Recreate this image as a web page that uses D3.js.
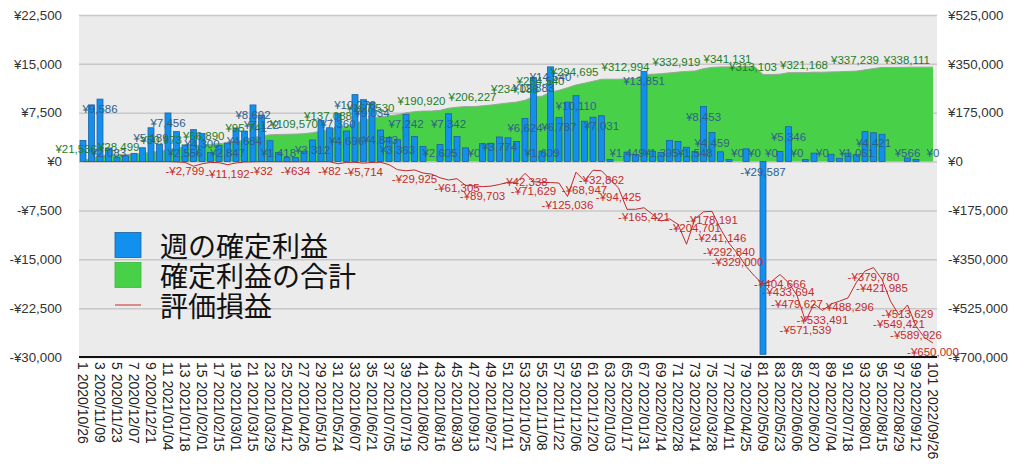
<!DOCTYPE html>
<html><head><meta charset="utf-8">
<script src="https://cdn.jsdelivr.net/npm/d3@7"></script>
<style>
body{margin:0;background:#fff;}
svg{display:block;}
text{font-family:"Liberation Sans",Arial,sans-serif;}
</style>
</head><body>
<svg id="c" width="1024" height="473"></svg>
<script>
// ---- data ----
const weekDates = ["2020/10/26","2020/11/02","2020/11/09","2020/11/16","2020/11/23","2020/11/30","2020/12/07","2020/12/14","2020/12/21","2020/12/28",
"2021/01/04","2021/01/11","2021/01/18","2021/01/25","2021/02/01","2021/02/08","2021/02/15","2021/02/22","2021/03/01","2021/03/08",
"2021/03/15","2021/03/22","2021/03/29","2021/04/05","2021/04/12","2021/04/19","2021/04/26","2021/05/03","2021/05/10","2021/05/17",
"2021/05/24","2021/05/31","2021/06/07","2021/06/14","2021/06/21","2021/06/28","2021/07/05","2021/07/12","2021/07/19","2021/07/26",
"2021/08/02","2021/08/09","2021/08/16","2021/08/23","2021/08/30","2021/09/06","2021/09/13","2021/09/20","2021/09/27","2021/10/04",
"2021/10/11","2021/10/18","2021/10/25","2021/11/01","2021/11/08","2021/11/15","2021/11/22","2021/11/29","2021/12/06","2021/12/13",
"2021/12/20","2021/12/27","2022/01/03","2022/01/10","2022/01/17","2022/01/24","2022/01/31","2022/02/07","2022/02/14","2022/02/21",
"2022/02/28","2022/03/07","2022/03/14","2022/03/21","2022/03/28","2022/04/04","2022/04/11","2022/04/18","2022/04/25","2022/05/02",
"2022/05/09","2022/05/16","2022/05/23","2022/05/30","2022/06/06","2022/06/13","2022/06/20","2022/06/27","2022/07/04","2022/07/11",
"2022/07/18","2022/07/25","2022/08/01","2022/08/08","2022/08/15","2022/08/22","2022/08/29","2022/09/05","2022/09/12","2022/09/19",
"2022/09/26"];

// 週の確定利益 (weekly realized profit, left axis)
const weeklyProfit = [3250,8700,9586,2083,600,900,1260,2120,5189,2673,
7456,4600,2556,4900,4300,1400,2470,2847,5150,4684,
8692,7122,3203,1418,600,600,1600,3312,6299,5184,
7360,4696,10278,9500,9034,4843,3702,3363,7242,3870,
2331,0,2605,7342,3870,2100,0,2750,2813,3774,
3650,3093,6624,12883,1609,14540,6787,9127,10110,6200,
6814,7031,300,0,1449,1100,13851,1599,1395,3229,
3100,2200,1548,8453,4459,1500,300,0,1953,0,
-29587,0,1559,5346,0,300,1300,0,1119,500,
1300,1061,4600,4421,4189,0,0,566,306,0,
0];

// 確定利益の合計 (cumulative realized profit, right axis)
const cumulativeProfit = [3250,11950,21536,23619,24219,25119,26379,28499,33688,36361,
43817,48417,50973,55873,60173,61573,64043,66890,72040,76724,
85416,92538,95741,97159,97759,98359,99959,103271,109570,114754,
122114,126810,137088,146588,155622,160465,164167,167530,174772,178642,
180973,180973,183578,190920,194790,196890,196890,199640,202453,206227,
209877,212970,219594,232477,234086,248626,255413,264540,274650,280850,
287664,294695,294995,294995,296444,297544,311395,312994,314389,317618,
320718,322918,324466,332919,337378,338878,339178,339178,341131,341131,
311544,311544,313103,318449,318449,318749,320049,320049,321168,321668,
322968,324029,328629,333050,337239,337239,337239,337805,338111,338111,
338111];

// 評価損益 (unrealized P/L, right axis)
const unrealized = [0,0,0,0,0,0,0,0,0,0,
0,-1200,-2799,-16500,-8000,-3000,-4000,-11192,-5000,-1500,
-800,-32,-300,-400,-500,-634,-400,-300,-200,-82,
-8000,-3000,-2500,-5714,-3000,-2500,-11000,-29000,-33000,-29925,
-41000,-45000,-58000,-66000,-61305,-85000,-87000,-89703,-88000,-82000,
-74000,-74000,-42338,-71629,-75000,-75000,-77000,-125036,-38000,-68947,
-31000,-32862,-64000,-94425,-171000,-171000,-165421,-189000,-213000,-205000,
-225000,-296000,-204701,-180000,-178191,-241146,-292840,-329000,-375000,-410000,
-439000,-429000,-404666,-433694,-479627,-571539,-510000,-533491,-510000,-500000,
-488296,-432000,-392000,-379780,-421985,-500000,-549421,-513629,-589926,-630000,
-650000];

// weeks (1-based) that carry a data label in the reference
const barLabelWeeks = [3,4,9,11,13,15,18,20,21,22,24,28,31,32,33,35,36,38,39,43,44,47,50,53,54,55,56,57,59,62,65,67,69,73,74,75,78,80,81,82,84,85,88,92,94,98,101];
const cumLabelWeeks = [3,8,13,18,23,29,33,38,44,50,55,58,62,68,74,80,83,89,95,101];
const lineLabelWeeks = [13,18,22,26,30,34,40,45,48,53,54,58,60,62,64,67,73,75,76,77,78,83,84,85,86,88,91,94,95,97,98,99,101];

const leftTicks = [22500,15000,7500,0,-7500,-15000,-22500,-30000];
const rightTicks = [525000,350000,175000,0,-175000,-350000,-525000,-700000];
const legendItems = ["週の確定利益","確定利益の合計","評価損益"];

// ---- chart ----
const svg = d3.select("#c");
const L = 79, R = 937, T = 15, B = 357;
const weeks = d3.range(1, weekDates.length + 1);
const x = d3.scalePoint().domain(weeks).range([83, 933]);
const yL = d3.scaleLinear().domain([-30000, 22500]).range([B, T]);
const yR = d3.scaleLinear().domain([-700000, 525000]).range([B, T]);
const yen = v => (v < 0 ? "-" : "") + "¥" + d3.format(",")(Math.abs(v));

svg.append("rect").attr("x", L).attr("y", T).attr("width", R - L).attr("height", B - T).attr("fill", "#ebebeb");

// gridlines
svg.append("g").attr("transform", `translate(${L},0)`)
  .call(d3.axisLeft(yL).tickValues(leftTicks).tickSize(-(R - L)).tickFormat(""))
  .call(g => g.select(".domain").remove())
  .call(g => g.selectAll("line").attr("stroke", "#c8c8c8").attr("stroke-width", 1.5));

// left axis labels
svg.append("g").attr("transform", `translate(${L},0)`)
  .call(d3.axisLeft(yL).tickValues(leftTicks).tickSize(0).tickPadding(17).tickFormat(yen))
  .call(g => g.select(".domain").remove())
  .call(g => g.selectAll("text").attr("font-size", 13.3).attr("fill", "#333").style("font-family", "'Liberation Sans',Arial,sans-serif"));

// right axis labels
svg.append("g").attr("transform", `translate(${R},0)`)
  .call(d3.axisRight(yR).tickValues(rightTicks).tickSize(0).tickPadding(11).tickFormat(yen))
  .call(g => g.select(".domain").remove())
  .call(g => g.selectAll("text").attr("font-size", 13.3).attr("fill", "#333").style("font-family", "'Liberation Sans',Arial,sans-serif"));

// cumulative area
const area = d3.area().x((d, i) => x(weeks[i])).y0(yR(0)).y1(d => yR(d));
svg.append("path").datum(cumulativeProfit).attr("d", area).attr("fill", "#48d148");
svg.append("path").datum(cumulativeProfit)
  .attr("d", d3.line().x((d, i) => x(weeks[i])).y(d => yR(d)))
  .attr("fill", "none").attr("stroke", "#9aa59a").attr("stroke-width", 1);

// bars
const bw = x.step() * 0.7;
svg.append("g").selectAll("rect").data(weeklyProfit).join("rect")
  .attr("x", (d, i) => x(weeks[i]) - bw / 2)
  .attr("y", d => Math.min(yL(d), yL(0)))
  .attr("width", bw)
  .attr("height", d => Math.abs(yL(d) - yL(0)))
  .attr("fill", "#1190ee").attr("stroke", "#1f5f9f").attr("stroke-width", 0.8);

// unrealized line
svg.append("path").datum(unrealized)
  .attr("d", d3.line().x((d, i) => x(weeks[i])).y(d => yR(d)))
  .attr("fill", "none").attr("stroke", "#c4282c").attr("stroke-width", 1);

// bottom axis line
svg.append("line").attr("x1", L).attr("x2", R).attr("y1", B).attr("y2", B).attr("stroke", "#111").attr("stroke-width", 2);

// x labels
svg.append("g").selectAll("text").data(weeks.filter(w => w % 2 === 1)).join("text")
  .attr("transform", w => `translate(${x(w)},362) rotate(90)`)
  .attr("dy", "0.35em").attr("font-size", 14).attr("fill", "#222")
  .text(w => w + " " + weekDates[w - 1]);

// data labels
const y0 = yL(0);
svg.append("g").selectAll("text").data(cumLabelWeeks).join("text")
  .attr("x", w => x(w) - 3).attr("y", w => yR(cumulativeProfit[w - 1]) - 7)
  .attr("text-anchor", "end").attr("dominant-baseline", "central")
  .attr("font-size", 11.5).attr("fill", "#1e7d1e")
  .text(w => yen(cumulativeProfit[w - 1]));

svg.append("g").selectAll("text").data(barLabelWeeks).join("text")
  .attr("x", w => x(w))
  .attr("y", w => { const v = weeklyProfit[w - 1]; return v < 0 ? y0 + 10 : Math.min(yL(v) + 10, y0 - 9); })
  .attr("text-anchor", "middle").attr("dominant-baseline", "central")
  .attr("font-size", 11.5).attr("fill", "#2f5f8a")
  .text(w => yen(weeklyProfit[w - 1]));

svg.append("g").selectAll("text").data(lineLabelWeeks).join("text")
  .attr("x", w => x(w)).attr("y", w => yR(unrealized[w - 1]) + 9)
  .attr("text-anchor", "middle").attr("dominant-baseline", "central")
  .attr("font-size", 11.5).attr("fill", "#c42b2b")
  .text(w => yen(unrealized[w - 1]));

// legend
const lg = svg.append("g").attr("transform", "translate(115,245)");
const legendStyles = [{t:"rect", fill:"#1190ee", stroke:"#1f5f9f"}, {t:"rect", fill:"#48d148", stroke:"#3cb83c"}, {t:"line", stroke:"#c4282c"}];
legendItems.forEach((name, i) => {
  const g = lg.append("g").attr("transform", `translate(0,${i * 30})`);
  const s = legendStyles[i];
  if (s.t === "rect") g.append("rect").attr("x", 0).attr("y", -12.5).attr("width", 26).attr("height", 25).attr("fill", s.fill).attr("stroke", s.stroke).attr("stroke-width", 0.8);
  else g.append("line").attr("x1", 0).attr("x2", 26).attr("y1", 0).attr("y2", 0).attr("stroke", s.stroke).attr("stroke-width", 1);
  g.append("text").attr("x", 45).attr("y", 0).attr("dominant-baseline", "central")
    .attr("font-size", 28).attr("fill", "#111").style("font-family", "'Noto Sans CJK JP',sans-serif").text(name);
});
</script>
</body></html>
